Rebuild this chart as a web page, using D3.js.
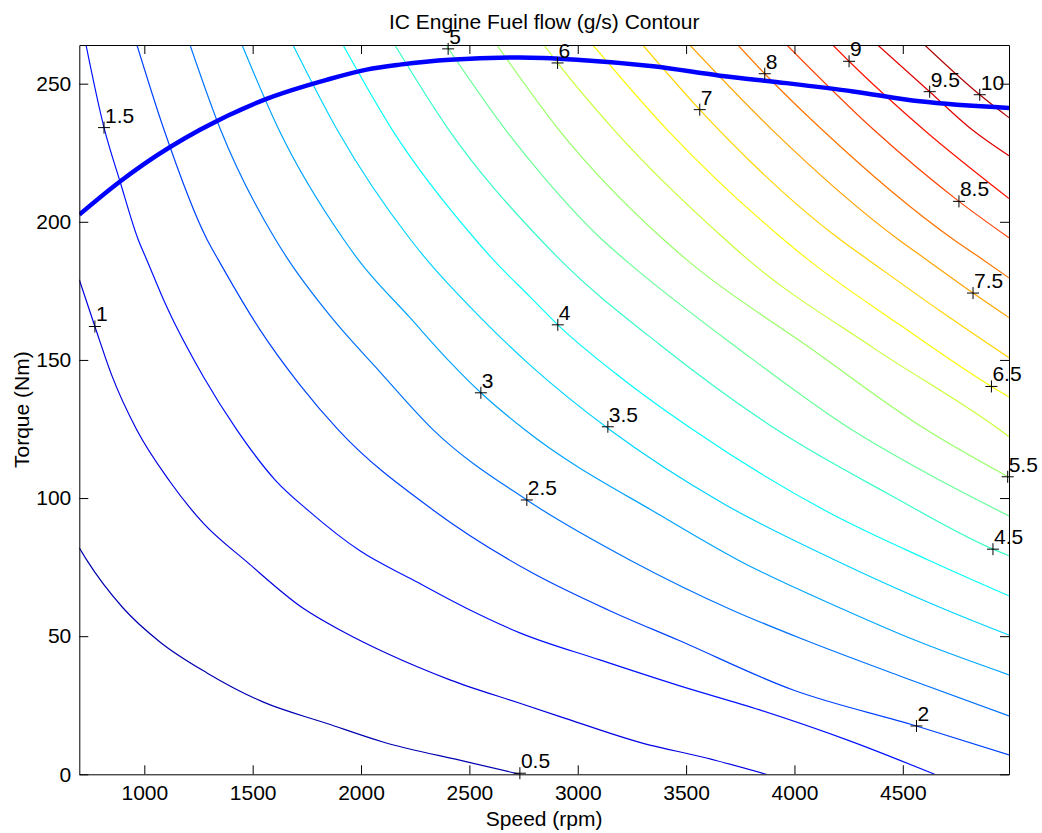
<!DOCTYPE html>
<html><head><meta charset="utf-8">
<script src="https://cdn.jsdelivr.net/npm/d3@7"></script>
<style>
body{margin:0;background:#fff}
text{font-family:"Liberation Sans",Arial,Helvetica,sans-serif}
</style>
</head><body>
<svg id="chart" width="1042" height="833"></svg>
<script>
// ---- data (speed rpm, torque Nm) ----
const titleText = "IC Engine Fuel flow (g/s) Contour";
const xLabel = "Speed (rpm)";
const yLabel = "Torque (Nm)";
const speedTicks = [1000,1500,2000,2500,3000,3500,4000,4500];
const torqueTicks = [0,50,100,150,200,250];
const levels = [0.5,1,1.5,2,2.5,3,3.5,4,4.5,5,5.5,6,6.5,7,7.5,8,8.5,9,9.5,10];

const line_0_5 = [[700,82.0],[734,77.6],[902,60.2],[1072,47.9],[1289,36.7],[1547,26.2],[1843,18.4],[2101,11.7],[2489,4.5],[2733,0]];
const line_1_0 = [[700,179.0],[772,162.1],[849,144.6],[965,124.7],[1118,106.0],[1272,90.9],[1472,77.0],[1733,60.1],[1918,51.6],[2118,43.8],[2410,34.2],[2733,25.7],[2918,20.9],[3302,11.2],[3594,5.9],[3871,0]];
const line_1_5 = [[731,264],[814,234.1],[888,214.6],[972,193.5],[1011,186.3],[1103,169.3],[1272,144.0],[1427,124.7],[1603,106.6],[1764,95.0],[1995,80.9],[2239,70.4],[2484,60.2],[2733,51.2],[3102,41.4],[3471,32.0],[3840,23.3],[4255,12.1],[4647,0]];
const line_2_0 = [[966,264],[1091,233.3],[1290,193.5],[1341,186.3],[1534,160.9],[1718,141.0],[1895,124.7],[2332,95.7],[2779,73.4],[3140,59.5],[3463,48.6],[3994,30.5],[4563,17.5],[4990,7.0]];
const line_2_5 = [[1211,264],[1352,233.3],[1606,193.5],[1664,186.3],[1857,166.0],[2087,145.7],[2333,124.7],[2765,99.3],[3240,77.6],[3711,59.5],[4048,48.6],[4486,35.6],[4990,21.1]];
const line_3_0 = [[1451,264],[1621,233.3],[1921,193.5],[1987,186.3],[2226,165.3],[2410,149.3],[2553,138.1],[2756,124.7],[3393,93.2],[3739,77.6],[4232,59.5],[4555,48.6],[4990,36.0]];
const line_3_5 = [[1686,264],[1890,233.3],[2229,193.5],[2303,186.3],[2548,165.6],[2779,148.2],[3148,124.7],[3665,98.3],[4186,77.6],[4701,59.5],[4990,50.4]];
const line_4_0 = [[1917,264],[2144,233.3],[2529,193.5],[2610,186.3],[2779,172.9],[2908,162.7],[3194,143.9],[3532,124.7],[4163,94.6],[4617,77.6],[4990,64.6]];
const line_4_5 = [[2156,264],[2405,233.3],[2829,193.5],[2918,186.3],[3379,155.5],[3919,124.7],[4440,101.2],[4916,81.5],[4990,79.1]];
const line_5_0 = [[2392,264],[2667,233.3],[2844,216.1],[3113,193.5],[3217,186.3],[3748,153.7],[4265,124.7],[4624,108.4],[4990,93.5]];
const line_5_5 = [[2627,264],[2913,233.3],[3397,193.5],[3502,186.3],[4071,154.4],[4609,124.7],[4990,107.5]];
const line_6_0 = [[2844,264],[2907,257.5],[3167,233.3],[3682,193.5],[3786,186.3],[4371,154.0],[4947,124.7],[4990,122.2]];
const line_6_5 = [[3070,264],[3413,233.3],[3951,193.5],[4063,186.3],[4486,162.7],[4909,140.4],[4990,136.6]];
const line_7_0 = [[3300,264],[3563,240.6],[3651,233.3],[4212,193.5],[4340,186.3],[4671,167.8],[4990,150.8]];
const line_7_5 = [[3517,264],[3897,233.3],[4481,193.5],[4609,186.3],[4824,174.2],[4990,165.3]];
const line_8_0 = [[3739,264],[3863,253.6],[4128,233.3],[4735,193.5],[4870,186.3],[4990,179.7]];
const line_8_5 = [[3965,264],[4366,233.3],[4759,207.4],[4990,194.2]];
const line_9_0 = [[4177,264],[4252,258.1],[4597,233.3],[4990,208.4]];
const line_9_5 = [[4384,264],[4624,247.1],[4820,233.3],[4990,223.9]];
const line_10_0 = [[4601,264],[4855,246.0],[4990,237.7]];

const contourLines = [line_0_5,line_1_0,line_1_5,line_2_0,line_2_5,line_3_0,line_3_5,line_4_0,line_4_5,line_5_0,
  line_5_5,line_6_0,line_6_5,line_7_0,line_7_5,line_8_0,line_8_5,line_9_0,line_9_5,line_10_0];

// contour label positions (speed, torque)
const labelText = ["0.5","1","1.5","2","2.5","3","3.5","4","4.5","5","5.5","6","6.5","7","7.5","8","8.5","9","9.5","10"];
const labelSpeed = [2733,772,814,4563,2765,2553,3139,2908,4916,2402,4984,2907,4909,3563,4824,3863,4759,4252,4624,4855];
const labelTorque = [0.4,162.1,234.1,17.5,99.3,138.1,125.8,162.7,81.5,262.6,107.7,257.5,140.4,240.6,174.2,253.6,207.4,258.1,247.1,246.0];

// max torque curve
const maxSpeed = [700,888,995,1257,1564,1841,2026,2179,2410,2733,2995,3348,3656,3963,4271,4578,4990];
const maxTorque = [202.6,214.6,220.7,233.3,244.5,251.4,255.1,256.9,258.7,259.5,258.7,256.3,252.9,250.2,247.2,243.6,241.2];

// ---- drawing ----
const svg = d3.select("#chart");
const L = 79.3, R = 1009, T = 45, B = 774.3;
const x = d3.scaleLinear().domain([700, 4990]).range([L, R]);
const y = d3.scaleLinear().domain([0, 264]).range([B, T]);

function jet(v){
  const c = t => Math.max(0, Math.min(1, t));
  const r = c(1.5 - Math.abs(4*v - 3)), g = c(1.5 - Math.abs(4*v - 2)), b = c(1.5 - Math.abs(4*v - 1));
  return d3.rgb(r*255, g*255, b*255).formatHex();
}
const colorOf = lv => jet(lv / 10.5);

svg.append("defs").append("clipPath").attr("id","plotclip")
  .append("rect").attr("x",L).attr("y",T).attr("width",R-L).attr("height",B-T);

const plot = svg.append("g").attr("clip-path","url(#plotclip)");
const lineGen = d3.line().x(d=>x(d[0])).y(d=>y(d[1])).curve(d3.curveMonotoneX);

contourLines.forEach((pts,i)=>{
  plot.append("path").attr("d", lineGen(pts)).attr("fill","none")
    .attr("stroke", colorOf(levels[i])).attr("stroke-width",1.2);
});

const maxPts = maxSpeed.map((s,i)=>[s, maxTorque[i]]);
plot.append("path")
  .attr("d", d3.line().x(d=>x(d[0])).y(d=>y(d[1])).curve(d3.curveMonotoneX)(maxPts))
  .attr("fill","none").attr("stroke","#0000ff").attr("stroke-width",4.5);

// axes
const fs = "21px";
const fmt = d3.format("d");
const axB = svg.append("g").attr("transform",`translate(0,${B})`)
  .call(d3.axisBottom(x).tickValues(speedTicks).tickFormat(fmt).tickSizeInner(-9).tickSizeOuter(0).tickPadding(11));
const axL = svg.append("g").attr("transform",`translate(${L},0)`)
  .call(d3.axisLeft(y).tickValues(torqueTicks).tickFormat(fmt).tickSizeInner(-9).tickSizeOuter(0).tickPadding(8));
const axT = svg.append("g").attr("transform",`translate(0,${T})`)
  .call(d3.axisTop(x).tickValues(speedTicks).tickSizeInner(-9).tickSizeOuter(0).tickFormat(""));
const axR = svg.append("g").attr("transform",`translate(${R},0)`)
  .call(d3.axisRight(y).tickValues(torqueTicks).tickSizeInner(-9).tickSizeOuter(0).tickFormat(""));
[axB,axL,axT,axR].forEach(a=>{
  a.selectAll("path.domain").attr("stroke","#000").attr("stroke-width",1);
  a.selectAll("line").attr("stroke","#000").attr("stroke-width",1);
  a.selectAll("text").attr("fill","#000").style("font-size",fs)
    .style("font-family",'"Liberation Sans",Arial,sans-serif');
});

// contour labels
const lab = svg.append("g");
labelText.forEach((t,i)=>{
  const cx = x(labelSpeed[i]), cy = y(labelTorque[i]);
  lab.append("path").attr("d",`M${cx-6},${cy}H${cx+6}M${cx},${cy-6}V${cy+6}`)
    .attr("stroke","#000").attr("stroke-width",1).attr("fill","none");
  lab.append("text").attr("x",cx+1).attr("y",cy-5).text(t)
    .style("font-size",fs).attr("fill","#000");
});

// titles
svg.append("text").attr("x",(L+R)/2).attr("y",29).attr("text-anchor","middle")
  .style("font-size",fs).text(titleText);
svg.append("text").attr("x",(L+R)/2).attr("y",826).attr("text-anchor","middle")
  .style("font-size",fs).text(xLabel);
svg.append("text").attr("transform",`translate(29,${(T+B)/2}) rotate(-90)`).attr("text-anchor","middle")
  .style("font-size",fs).text(yLabel);
</script>
</body></html>
